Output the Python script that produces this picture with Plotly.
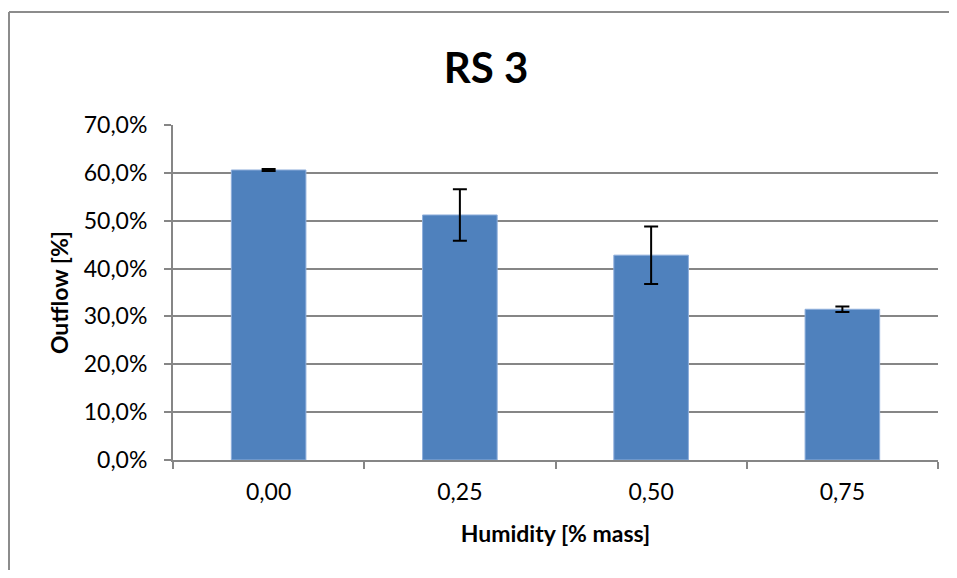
import plotly.graph_objects as go

humidity = ["0,00", "0,25", "0,50", "0,75"]
outflow = [0.606, 0.512, 0.428, 0.315]
err = [0.002, 0.054, 0.060, 0.006]

fig = go.Figure()
fig.add_trace(go.Bar(
    x=humidity, y=outflow,
    marker=dict(color="#4f81bd", line=dict(color="#8eaedb", width=1)),
    error_y=dict(type="data", array=err, visible=True, color="black", thickness=2, width=7),
    width=0.39,
))

grid = "#868686"
frame_x = (1 - 165) / 765
frame_y = (452 - 4) / 335
# page has an 8px body margin; figure shrunk by 16px so no scrollbars appear
fig.update_layout(
    width=941, height=562,
    margin=dict(l=165, r=11, t=117, b=110),
    paper_bgcolor="white", plot_bgcolor="white",
    separators=",.",
    font=dict(family="Lato, Liberation Sans", size=23, color="black"),
    title=dict(text="<b>RS 3</b>", x=478 / 941, xanchor="center", y=1 - 60 / 562, yanchor="middle",
               font=dict(size=42)),
    showlegend=False,
    xaxis=dict(
        title=dict(text="<b>Humidity [% mass]</b>", font=dict(size=23), standoff=22),
        showline=True, linecolor=grid, linewidth=2,
        ticks="outside", tickson="boundaries", ticklen=7, tickcolor=grid, tickwidth=2,
        ticklabelstandoff=10,
        showgrid=False,
    ),
    yaxis=dict(
        title=dict(text="<b>Outflow [%]</b>", font=dict(size=23), standoff=9),
        range=[0, 0.70], dtick=0.10, tickformat=".1%",
        showline=True, linecolor=grid, linewidth=2,
        ticks="outside", ticklen=7, tickcolor=grid, tickwidth=2,
        ticklabelstandoff=12,
        showgrid=True, gridcolor=grid, gridwidth=2,
        zeroline=False,
    ),
    shapes=[
        dict(type="line", xref="paper", yref="paper", x0=frame_x, x1=1.2, y0=frame_y, y1=frame_y,
             line=dict(color="#8c8c8c", width=2), layer="below"),
        dict(type="line", xref="paper", yref="paper", x0=frame_x, x1=frame_x, y0=-0.5, y1=frame_y,
             line=dict(color="#8c8c8c", width=2), layer="below"),
    ],
)

fig.write_html("out.html")
